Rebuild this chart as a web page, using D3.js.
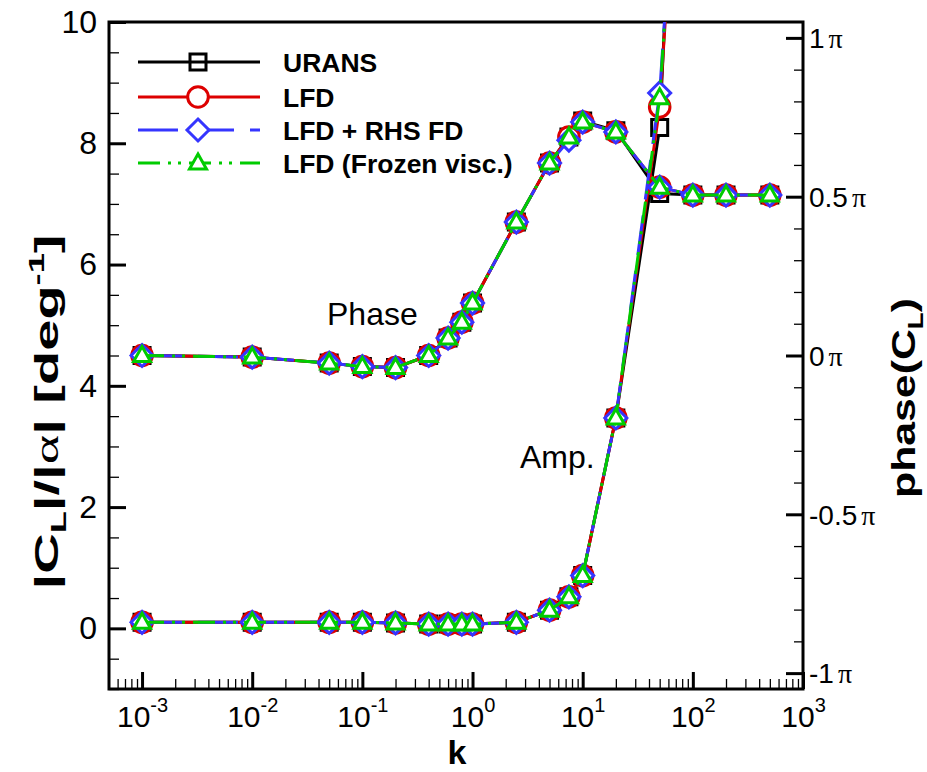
<!DOCTYPE html>
<html><head><meta charset="utf-8">
<script src="https://cdn.jsdelivr.net/npm/d3@7/dist/d3.min.js"></script>
<style>
body{margin:0;background:#fff}
svg{display:block}
text{font-family:"Liberation Sans",Arial,Helvetica,sans-serif;fill:#000}
</style>
</head><body>
<svg id="c" width="927" height="772"></svg>
<script>
// ---------------- data ----------------
const kValues = [0.001,0.01,0.05,0.1,0.2,0.4,0.6,0.8,1.0,2.5,5,7.5,10,20,50,100,200,500];

const ampURANS  = [0.1,0.1,0.1,0.1,0.09,0.07,0.07,0.07,0.07,0.1,0.3,0.52,0.87,3.47,8.26,20,null,null];
const ampLFD    = [0.1,0.1,0.1,0.1,0.09,0.07,0.07,0.07,0.07,0.1,0.3,0.52,0.87,3.47,8.6,17,null,null];
const ampRHS    = [0.1,0.1,0.1,0.1,0.09,0.07,0.07,0.07,0.07,0.1,0.3,0.52,0.87,3.47,8.83,17,null,null];
const ampFrozen = [0.1,0.1,0.1,0.1,0.09,0.07,0.07,0.07,0.07,0.1,0.3,0.52,0.87,3.47,8.75,17,null,null];

// phase in units of pi
const phaseURANS  = [0,-0.005,-0.024,-0.035,-0.038,0,0.055,0.105,0.165,0.42,0.606,0.688,0.738,0.708,0.51,0.505,0.505,0.505];
const phaseLFD    = [0,-0.005,-0.024,-0.035,-0.038,0,0.055,0.105,0.165,0.42,0.606,0.688,0.735,0.704,0.53,0.505,0.505,0.505];
const phaseRHS    = [0,-0.005,-0.024,-0.035,-0.038,0,0.055,0.105,0.165,0.42,0.606,0.678,0.735,0.704,0.53,0.505,0.505,0.505];
const phaseFrozen = [0,-0.005,-0.024,-0.035,-0.038,0,0.055,0.105,0.165,0.42,0.606,0.688,0.735,0.704,0.53,0.505,0.505,0.505];

const seriesNames = ["URANS","LFD","LFD + RHS FD","LFD (Frozen visc.)"];
const xTickExponents = [-3,-2,-1,0,1,2,3];
const leftTicks = [0,2,4,6,8,10];
const rightTicks = [-1,-0.5,0,0.5,1];
const rightTickLabels = ["-1","-0.5","0","0.5","1"];

// ---------------- styles ----------------
const styles = [
  {color:"#000000", dash:null, marker:"square"},
  {color:"#dd0000", dash:null, marker:"circle"},
  {color:"#3535ff", dash:"40,16", marker:"diamond"},
  {color:"#00cc00", dash:"22,8,3,7,3,8", marker:"triangle"}
];
const ampData = [ampURANS, ampLFD, ampRHS, ampFrozen];
const phaseData = [phaseURANS, phaseLFD, phaseRHS, phaseFrozen];

const L=109, R=803, T=22, B=689;
const svg = d3.select("#c");

const x = d3.scaleLog().domain([Math.pow(10,-3.3), 1000]).range([L,R]);
const yL = d3.scaleLinear().domain([-1,10]).range([B,T]);
const yR = d3.scaleLinear().domain([-1.05,1.05]).range([B,T]);

svg.append("defs").append("clipPath").attr("id","clip")
  .append("rect").attr("x",L).attr("y",T).attr("width",R-L).attr("height",B-T);

// ---------------- axes ----------------
function styleAxis(g, w){
  g.select(".domain").remove();
  g.selectAll(".tick line").attr("stroke","#000").attr("stroke-width",w);
}
// bottom minor
const minorX = [];
for(let e=-4;e<=2;e++) for(let m=2;m<=9;m++){const v=m*Math.pow(10,e); if(v>=x.domain()[0] && v<=1000) minorX.push(v);}
svg.append("g").attr("transform",`translate(0,${B})`)
  .call(d3.axisBottom(x).tickValues(minorX).tickSize(-10).tickFormat(""))
  .call(g=>styleAxis(g,1.3));
const gxMaj = svg.append("g").attr("transform",`translate(0,${B})`)
  .call(d3.axisBottom(x).tickValues(xTickExponents.map(e=>Math.pow(10,e))).tickSize(-17).tickFormat(""))
  .call(g=>styleAxis(g,3));
gxMaj.selectAll(".tick").each(function(d,i){
  const t = d3.select(this).append("text").attr("y",38).attr("text-anchor","middle")
    .attr("font-size",30);
  t.append("tspan").text("10");
  t.append("tspan").attr("font-size",20).attr("dy",-15).text(String(xTickExponents[i]));
});

// left
const minorL = d3.range(-1,10.001,0.5).filter(v=>!leftTicks.includes(v));
svg.append("g").attr("transform",`translate(${L},0)`)
  .call(d3.axisLeft(yL).tickValues(minorL).tickSize(-10).tickFormat(""))
  .call(g=>styleAxis(g,1.3));
svg.append("g").attr("transform",`translate(${L},0)`)
  .call(d3.axisLeft(yL).tickValues(leftTicks).tickSize(-17).tickPadding(12).tickFormat(d3.format("d")))
  .call(g=>styleAxis(g,3))
  .call(g=>g.selectAll(".tick text").attr("font-size",32).attr("font-family","Liberation Sans, Arial, sans-serif").attr("fill","#000"));

// right
const minorR = d3.range(-10,11,1).map(v=>v/10).filter(v=>!rightTicks.some(t=>Math.abs(t-v)<1e-9));
svg.append("g").attr("transform",`translate(${R},0)`)
  .call(d3.axisRight(yR).tickValues(minorR).tickSize(-9).tickFormat(""))
  .call(g=>styleAxis(g,1.3));
const gR = svg.append("g").attr("transform",`translate(${R},0)`)
  .call(d3.axisRight(yR).tickValues(rightTicks).tickSize(-17).tickFormat(""))
  .call(g=>styleAxis(g,3));
gR.selectAll(".tick").each(function(d,i){
  const t = d3.select(this).append("text").attr("x",6).attr("dy","0.35em").attr("font-size",28);
  t.append("tspan").text(rightTickLabels[i]);
  t.append("tspan").attr("dx",4).attr("font-family","Liberation Serif, serif").text("π");
});

// box
svg.append("rect").attr("x",L).attr("y",T).attr("width",R-L).attr("height",B-T)
  .attr("fill","none").attr("stroke","#000").attr("stroke-width",3);

// ---------------- markers ----------------
function markerPath(type){
  switch(type){
    case "square": return "M-8,-8H8V8H-8Z";
    case "circle": return d3.arc()({innerRadius:0,outerRadius:10.3,startAngle:0,endAngle:2*Math.PI});
    case "diamond": return "M0,-11L11,0L0,11L-11,0Z";
    case "triangle": return "M0,-9L8.5,6L-8.5,6Z";
  }
}

// ---------------- series ----------------
const plot = svg.append("g").attr("clip-path","url(#clip)");
const line = d3.line().defined(d=>d.v!=null).x(d=>x(d.k)).y(d=>d.y);

styles.forEach((s,i)=>{
  const g = plot.append("g");
  const sets = [
    kValues.map((k,j)=>({k, v:phaseData[i][j], y: phaseData[i][j]==null?null:yR(phaseData[i][j])})),
    kValues.map((k,j)=>({k, v:ampData[i][j], y: ampData[i][j]==null?null:yL(ampData[i][j])}))
  ];
  sets.forEach(pts=>{
    g.append("path").attr("d",line(pts)).attr("fill","none").attr("stroke",s.color)
      .attr("stroke-width",3).attr("stroke-dasharray",s.dash).attr("stroke-linejoin","round");
  });
  sets.forEach(pts=>{
    g.selectAll(null).data(pts.filter(d=>d.v!=null)).join("path")
      .attr("d",markerPath(s.marker))
      .attr("transform",d=>`translate(${x(d.k)},${d.y})`)
      .attr("fill","#fff").attr("stroke",s.color).attr("stroke-width",3);
  });
});

// ---------------- legend ----------------
const legY = [62,97,130,163];
seriesNames.forEach((name,i)=>{
  const s = styles[i];
  svg.append("line").attr("x1",138).attr("x2",260).attr("y1",legY[i]).attr("y2",legY[i])
    .attr("stroke",s.color).attr("stroke-width",3).attr("stroke-dasharray",s.dash);
  svg.append("path").attr("d",markerPath(s.marker)).attr("transform",`translate(198,${legY[i]})`)
    .attr("fill", s.marker==="square"?"none":"#fff").attr("stroke",s.color).attr("stroke-width",3);
  svg.append("text").attr("x",283).attr("y",legY[i]).attr("dy","0.36em")
    .attr("font-size",26.5).attr("font-weight","bold").text(name);
});

// ---------------- annotations ----------------
svg.append("text").attr("x",327).attr("y",325).attr("font-size",32).text("Phase");
svg.append("text").attr("x",520).attr("y",468).attr("font-size",32).text("Amp.");

// axis titles
svg.append("text").attr("x",457).attr("y",764).attr("text-anchor","middle")
  .attr("font-size",34).attr("font-weight","bold").text("k");

const lt = svg.append("text").attr("transform","translate(58,412) rotate(-90)")
  .attr("text-anchor","middle").attr("font-size",34).attr("font-weight","bold")
  .attr("textLength",355).attr("lengthAdjust","spacingAndGlyphs");
lt.append("tspan").text("|C");
lt.append("tspan").attr("font-size",22).attr("dy",8).text("L");
lt.append("tspan").attr("dy",-8).text("|/|");
lt.append("tspan").attr("font-family","Liberation Serif, serif").attr("font-weight","normal").text("α");
lt.append("tspan").text("| [deg");
lt.append("tspan").attr("font-size",22).attr("dy",-14).text("-1");
lt.append("tspan").attr("dy",14).text("]");

const rt = svg.append("text").attr("transform","translate(915,398) rotate(-90)")
  .attr("text-anchor","middle").attr("font-size",34).attr("font-weight","bold")
  .attr("textLength",200).attr("lengthAdjust","spacingAndGlyphs");
rt.append("tspan").text("phase(C");
rt.append("tspan").attr("font-size",22).attr("dy",8).text("L");
rt.append("tspan").attr("dy",-8).text(")");
</script>
</body></html>
